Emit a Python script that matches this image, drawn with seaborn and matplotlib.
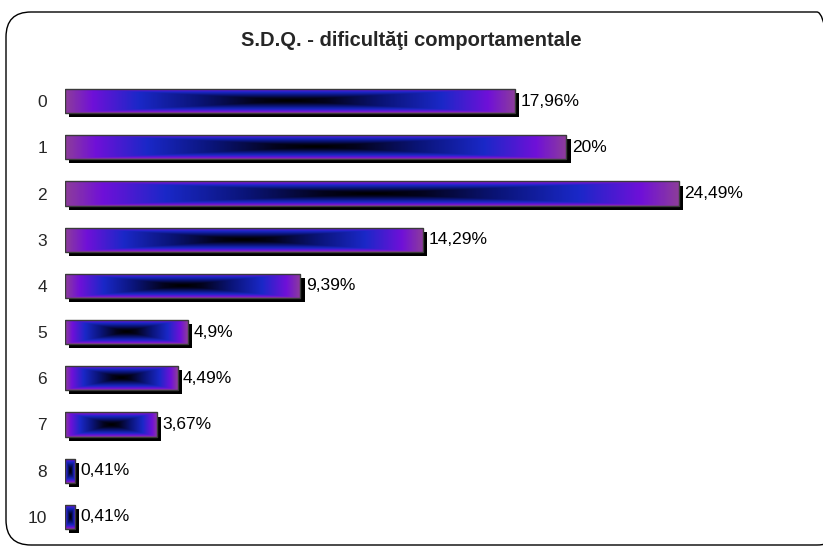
import numpy as np
import seaborn as sns
import matplotlib.pyplot as plt
import matplotlib.patheffects as pe
from matplotlib.colors import LinearSegmentedColormap
from matplotlib.patches import Rectangle, FancyBboxPatch
from matplotlib.transforms import IdentityTransform

# dados
categorias = ['0', '1', '2', '3', '4', '5', '6', '7', '8', '10']
valores = [17.96, 20, 24.49, 14.29, 9.39, 4.9, 4.49, 3.67, 0.41, 0.41]
rotulos = [f"{v:g}".replace('.', ',') + '%' for v in valores]
titulo = 'S.D.Q. - dificultăţi comportamentale'

sns.set_style('white')
plt.rcParams['font.family'] = ['Liberation Sans', 'DejaVu Sans']

fig = plt.figure(figsize=(8.23, 5.46), dpi=100)
ax = fig.add_axes([65 / 823, 1 - 540 / 546, 715 / 823, 462 / 546])

sns.barplot(x=valores, y=categorias, orient='h', width=0.52, color='#3a1ad0',
            order=categorias, ax=ax)

# gradiente: roxo nas bordas, azul, preto no centro
cmap = LinearSegmentedColormap.from_list('grad', [
    (0.0, '#000000'), (0.15, '#03031e'), (0.4, '#0a1478'),
    (0.67, '#1a28c8'), (0.88, '#7010d8'), (1.0, '#8c3c9c')])
u = np.linspace(-1, 1, 300)
v = np.linspace(-1, 1, 40)
U, V = np.meshgrid(u, v)
grad = np.maximum(np.abs(U), np.abs(V) ** 1.1)

for p, rot in zip(ax.patches, rotulos):
    x0, y0 = p.get_x(), p.get_y()
    w, h = p.get_width(), p.get_height()
    p.set_path_effects([pe.SimplePatchShadow(offset=(3, -3), shadow_rgbFace='black', alpha=1),
                        pe.Normal()])
    p.set_edgecolor('none')
    im = ax.imshow(grad, cmap=cmap, extent=(x0, x0 + w, y0 + h, y0), aspect='auto',
                   interpolation='bilinear', zorder=p.get_zorder() + 0.1)
    im.set_clip_path(p)
    ax.add_patch(Rectangle((x0, y0), w, h, fill=False, edgecolor='#3a3a3a', lw=1.0,
                           zorder=p.get_zorder() + 0.2))
    ax.annotate(rot, (x0 + w, y0 + h / 2), xytext=(4, 0), textcoords='offset points',
                va='center', ha='left', fontsize=12.5, color='black')

ax.set_xlim(0, 715 / 25.07)
ax.set_ylim(len(categorias) - 0.5, -0.5)
ax.set_xlabel('')
ax.set_ylabel('')
ax.set_xticks([])
ax.tick_params(axis='y', length=0, pad=13, labelsize=12.5)
for s in ax.spines.values():
    s.set_visible(False)

fig.text(0.5, 1 - 41 / 546, titulo, ha='center', va='center', fontsize=14.5,
         fontweight='bold')

# moldura arredondada
moldura = FancyBboxPatch((6, 1), 836, 533, boxstyle='round,pad=0,rounding_size=25',
                         transform=IdentityTransform(), fill=False, edgecolor='black',
                         lw=1.0)
fig.patches.append(moldura)

fig.savefig('out.png', dpi=100)
